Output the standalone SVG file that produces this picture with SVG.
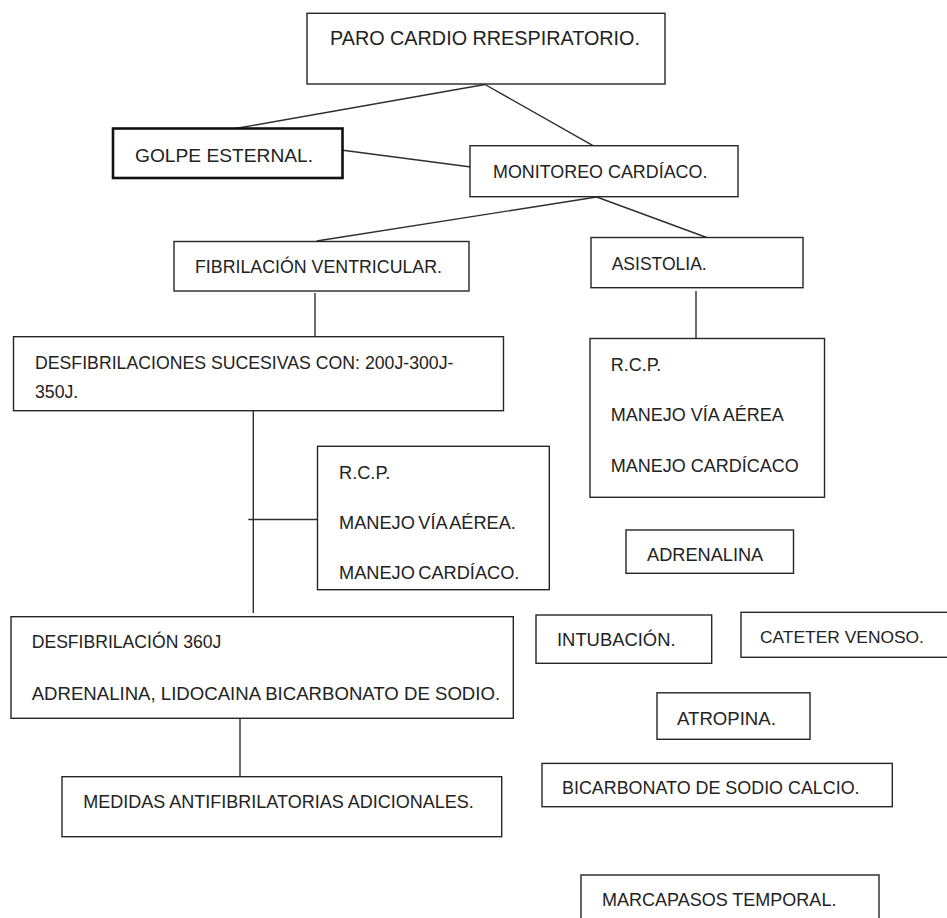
<svg xmlns="http://www.w3.org/2000/svg" width="947" height="918" viewBox="0 0 947 918">
<style>
.box{fill:#fff;stroke:#262626;stroke-width:1.4}
.thick{fill:#fff;stroke:#111;stroke-width:2.6}
.t{font-family:"Liberation Sans",Arial,sans-serif;font-size:18px;fill:#222}
.c{fill:none;stroke:#2e2e2e;stroke-width:1.4}
</style>
<rect width="947" height="918" fill="#fff"/>
<g id="connectors">
<line class="c" x1="485" y1="84.5" x2="236.7" y2="128.3"/>
<line class="c" x1="485" y1="84.5" x2="593" y2="145.7"/>
<line class="c" x1="341" y1="150" x2="471" y2="167"/>
<line class="c" x1="596.7" y1="197" x2="316.7" y2="241"/>
<line class="c" x1="596.7" y1="197" x2="706.7" y2="237.5"/>
<line class="c" x1="315" y1="293" x2="315" y2="336.7"/>
<line class="c" x1="696" y1="291" x2="696" y2="338.5"/>
<line class="c" x1="253.3" y1="410.7" x2="253.3" y2="613"/>
<line class="c" x1="248.3" y1="519.5" x2="317.5" y2="519.5"/>
<line class="c" x1="240" y1="718.5" x2="240" y2="776.7"/>
</g>
<g id="paro">
<rect class="box" x="307" y="13.3" width="358" height="70.7"/>
<text class="t" x="330" y="45" style="font-size:19.8px">PARO CARDIO RRESPIRATORIO.</text>
</g>
<g id="golpe">
<rect class="thick" x="113" y="128.5" width="229.5" height="49.5"/>
<text class="t" x="135" y="161.5" style="font-size:19.2px">GOLPE ESTERNAL.</text>
</g>
<g id="monitoreo">
<rect class="box" x="470" y="145.7" width="268" height="51"/>
<text class="t" x="493" y="178" style="font-size:17.9px">MONITOREO CARDÍACO.</text>
</g>
<g id="fibrilacion">
<rect class="box" x="174" y="241.5" width="295" height="49.5"/>
<text class="t" x="195" y="273" style="font-size:17.8px">FIBRILACIÓN VENTRICULAR.</text>
</g>
<g id="asistolia">
<rect class="box" x="591" y="237.5" width="212" height="50.2"/>
<text class="t" x="611.7" y="269.5" style="font-size:17.5px">ASISTOLIA.</text>
</g>
<g id="desfibrilaciones">
<rect class="box" x="13.5" y="336.7" width="490" height="74"/>
<text class="t" x="35" y="368.7" style="font-size:17.7px">DESFIBRILACIONES SUCESIVAS CON: 200J-300J-</text>
<text class="t" x="35" y="397.5" style="font-size:17.7px">350J.</text>
</g>
<g id="rcp-fv">
<rect class="box" x="317.5" y="446.3" width="231.8" height="143.4"/>
<text class="t" x="339" y="479" style="font-size:18.2px">R.C.P.</text>
<text class="t" x="339" y="529" style="font-size:18.2px;word-spacing:-1.5px">MANEJO VÍA AÉREA.</text>
<text class="t" x="339" y="579" style="font-size:18.2px;word-spacing:-1.5px">MANEJO CARDÍACO.</text>
</g>
<g id="rcp-asistolia">
<rect class="box" x="590" y="338.5" width="234.5" height="158.8"/>
<text class="t" x="610.7" y="370.5">R.C.P.</text>
<text class="t" x="610.7" y="420.5">MANEJO VÍA AÉREA</text>
<text class="t" x="610.7" y="471.5">MANEJO CARDÍCACO</text>
</g>
<g id="adrenalina">
<rect class="box" x="626" y="530" width="167.5" height="43.3"/>
<text class="t" x="647" y="560.5" style="font-size:18.2px">ADRENALINA</text>
</g>
<g id="intubacion">
<rect class="box" x="536" y="615" width="175.7" height="48.3"/>
<text class="t" x="557" y="645.8" style="font-size:18.4px">INTUBACIÓN.</text>
</g>
<g id="cateter">
<rect class="box" x="741" y="612.3" width="220" height="45"/>
<text class="t" x="760" y="643" style="font-size:17.4px">CATETER VENOSO.</text>
</g>
<g id="atropina">
<rect class="box" x="657" y="692.8" width="153" height="46.5"/>
<text class="t" x="677" y="725" style="font-size:18.6px">ATROPINA.</text>
</g>
<g id="bicarbonato">
<rect class="box" x="542" y="763.4" width="350.3" height="43.3"/>
<text class="t" x="562" y="793.7" style="font-size:17.9px">BICARBONATO DE SODIO CALCIO.</text>
</g>
<g id="marcapasos">
<rect class="box" x="581" y="875" width="298" height="60"/>
<text class="t" x="602" y="905.8">MARCAPASOS TEMPORAL.</text>
</g>
<g id="desfibrilacion-360">
<rect class="box" x="11" y="616.7" width="502.3" height="101.6"/>
<text class="t" x="31.7" y="648" style="font-size:17.6px">DESFIBRILACIÓN 360J</text>
<text class="t" x="31.7" y="699.8" style="font-size:18.6px">ADRENALINA, LIDOCAINA BICARBONATO DE SODIO.</text>
</g>
<g id="medidas">
<rect class="box" x="62" y="776.7" width="439.7" height="60"/>
<text class="t" x="83.3" y="807.5">MEDIDAS ANTIFIBRILATORIAS ADICIONALES.</text>
</g>
</svg>
